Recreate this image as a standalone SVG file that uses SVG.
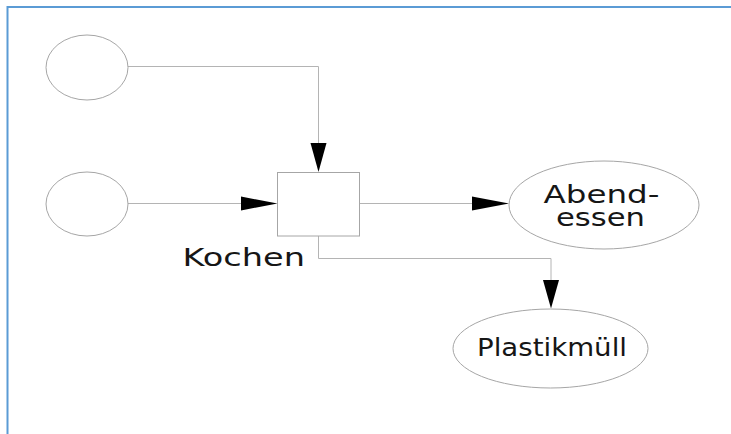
<svg xmlns="http://www.w3.org/2000/svg" width="731" height="434" viewBox="0 0 731 434">
  <style>
    .frame { fill: none; stroke: #5b9bd5; stroke-width: 2; }
    .node { fill: #ffffff; stroke: #a6a6a6; stroke-width: 1; }
    .wire { fill: none; stroke: #b4b4b4; stroke-width: 1; }
    .head { fill: #000000; stroke: none; }
    .label { font-family: "DejaVu Sans", "Liberation Sans", sans-serif; font-size: 25px; fill: #161616; }
  </style>

  <rect width="731" height="434" fill="#ffffff"/>
  <!-- page frame: top and left edges only -->
  <path class="frame" d="M7.5,440 V7 H740"/>

  <g id="connectors">
    <path class="wire" d="M128,66.5 H318.5 V143"/>
    <polygon class="head" points="310.5,143 326.5,143 318.5,172"/>

    <path class="wire" d="M128,203.5 H241"/>
    <polygon class="head" points="241,196.5 241,210.5 277.5,203.5"/>

    <path class="wire" d="M360,203.5 H472"/>
    <polygon class="head" points="472,196.5 472,210.5 509,203.5"/>

    <path class="wire" d="M318.5,236 V258.5 H551 V280"/>
    <polygon class="head" points="543,280 559,280 551,308.5"/>
  </g>

  <g id="source-top">
    <ellipse class="node" cx="87" cy="67.5" rx="41" ry="32.5"/>
  </g>

  <g id="source-bottom">
    <ellipse class="node" cx="87" cy="204" rx="41" ry="32"/>
  </g>

  <g id="kochen">
    <rect class="node" x="277.5" y="172.5" width="82" height="63.5"/>
    <text class="label" x="182.5" y="266" textLength="122.5" lengthAdjust="spacingAndGlyphs">Kochen</text>
  </g>

  <g id="abendessen">
    <ellipse class="node" cx="604" cy="205" rx="95" ry="44"/>
    <text class="label">
      <tspan x="543.5" y="203" textLength="116" lengthAdjust="spacingAndGlyphs">Abend-</tspan>
      <tspan x="556" y="225.5" textLength="89" lengthAdjust="spacingAndGlyphs">essen</tspan>
    </text>
  </g>

  <g id="plastikmuell">
    <ellipse class="node" cx="550.5" cy="348.5" rx="97.5" ry="39.5"/>
    <text class="label" x="477" y="356" textLength="150" lengthAdjust="spacingAndGlyphs">Plastikmüll</text>
  </g>
</svg>
